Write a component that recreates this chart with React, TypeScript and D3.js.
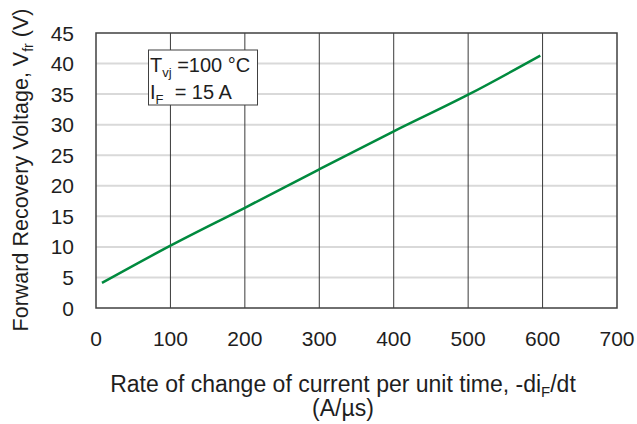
import React from 'react';
import * as d3 from 'd3';

// Forward recovery voltage vs -diF/dt
const diDt = [8, 100, 200, 300, 400, 500, 597];
const vfr = [4.1, 10.2, 16.4, 22.7, 28.9, 34.9, 41.3];

const xTicks = [0, 100, 200, 300, 400, 500, 600, 700];
const yTicks = [0, 5, 10, 15, 20, 25, 30, 35, 40, 45];

const W = 637;
const H = 424;
const margin = { left: 96, right: 20, top: 33, bottom: 116 };
const FONT = '"Liberation Sans", Arial, sans-serif';
const INK = '#1e1e1e';

const App: React.FC = () => {
  const x = d3.scaleLinear().domain([0, 700]).range([margin.left, W - margin.right]);
  const y = d3.scaleLinear().domain([0, 45]).range([H - margin.bottom, margin.top]);

  const pts = diDt.map((d, i) => [d, vfr[i]] as [number, number]);
  const line = d3.line<[number, number]>()
    .x(d => x(d[0]))
    .y(d => y(d[1]))
    .curve(d3.curveMonotoneX);

  const x0 = x(0), x1 = x(700), y0 = y(0), y1 = y(45);

  return (
    <svg width={W} height={H} style={{ position: 'absolute', left: 0, top: 0 }} fontFamily={FONT}>
      <rect width={W} height={H} fill="#fff" />

      {/* horizontal grid */}
      {yTicks.slice(1, -1).map(t => (
        <line key={'h' + t} x1={x0} x2={x1} y1={y(t)} y2={y(t)} stroke="#d9d9d9" strokeWidth={2} />
      ))}
      {/* vertical grid */}
      {xTicks.slice(1, -1).map(t => (
        <line key={'v' + t} x1={x(t)} x2={x(t)} y1={y1} y2={y0} stroke="#3a3a3a" strokeWidth={1} />
      ))}
      <rect x={x0} y={y1} width={x1 - x0} height={y0 - y1} fill="none" stroke="#404040" strokeWidth={1.5} />

      <path d={line(pts) || ''} fill="none" stroke="#008a3e" strokeWidth={2.5} />

      {/* tick labels */}
      {yTicks.map(t => (
        <text key={'yl' + t} x={x0 - 22} y={y(t)} dy="0.36em" textAnchor="end" fontSize={21} fill={INK}>{t}</text>
      ))}
      {xTicks.map(t => (
        <text key={'xl' + t} x={x(t)} y={y0 + 38} textAnchor="middle" fontSize={21} fill={INK}>{t}</text>
      ))}

      {/* condition box */}
      <rect x={148.5} y={50} width={109} height={55} fill="#fff" stroke="#404040" strokeWidth={1} />
      <text x={150} y={72} fontSize={20} fill={INK}>
        T<tspan fontSize={13} dy={5}>vj</tspan><tspan dy={-5}> =100 °C</tspan>
      </text>
      <text x={150} y={99} fontSize={20} fill={INK}>
        I<tspan fontSize={13} dy={5}>F</tspan><tspan dy={-5}>{'\u00a0\u00a0= 15 A'}</tspan>
      </text>

      {/* axis titles */}
      <text transform="translate(28,170) rotate(-90)" textAnchor="middle" fontSize={21.5} fill={INK}>
        Forward Recovery Voltage, V<tspan fontSize={14} dy={5}>fr</tspan><tspan dy={-5}> (V)</tspan>
      </text>
      <text x={343} y={392} textAnchor="middle" fontSize={23} fill={INK}>
        Rate of change of current per unit time, -di<tspan fontSize={15} dy={5}>F</tspan><tspan dy={-5}>/dt</tspan>
      </text>
      <text x={343} y={416} textAnchor="middle" fontSize={23} fill={INK}>(A/µs)</text>
    </svg>
  );
};

export default App;
